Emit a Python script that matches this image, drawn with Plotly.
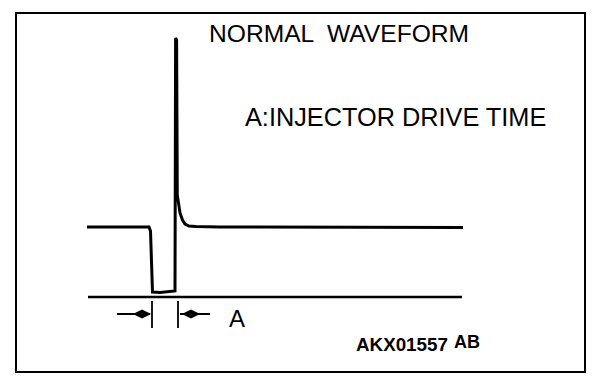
import plotly.graph_objects as go

# Waveform (time in arbitrary units, voltage in arbitrary units, ground = 0)
wave_t = [87, 149, 150.5, 152.5, 160, 170, 175, 175.6, 176.6, 177.3, 178.3, 180, 182.5, 185, 189, 196, 220, 300, 400, 463]
wave_v = [70, 70, 66, 5, 4.5, 5, 6, 259, 257, 102, 94, 84, 77, 73, 71, 70.5, 70, 70, 69.5, 69.5]

ground_t = [88, 462]
ground_v = [0, 0]

# Injector drive time markers (A)
tick_left_t = 152
tick_right_t = 178
tick_v = [-4, -31]
arrow_v = -17
arrow_left_t = [117, 150]
arrow_right_t = [180, 210]
head_left_t = 142
head_right_t = 191

title_text = "NORMAL  WAVEFORM"
legend_text = "A:INJECTOR DRIVE TIME"
a_label = "A"
code_text = "AKX01557"
code_suffix = "AB"

Y0 = 297  # pixel row of ground (for axis range only)

fig = go.Figure()

fig.add_trace(go.Scatter(x=wave_t, y=wave_v, mode="lines", line=dict(color="black", width=3, shape="linear"), hoverinfo="skip"))
fig.add_trace(go.Scatter(x=ground_t, y=ground_v, mode="lines", line=dict(color="black", width=2.5), hoverinfo="skip"))

# ticks
for t in (tick_left_t, tick_right_t):
    fig.add_trace(go.Scatter(x=[t, t], y=tick_v, mode="lines", line=dict(color="black", width=1.8), hoverinfo="skip"))
# arrows
fig.add_trace(go.Scatter(x=arrow_left_t, y=[arrow_v, arrow_v], mode="lines", line=dict(color="black", width=2), hoverinfo="skip"))
fig.add_trace(go.Scatter(x=arrow_right_t, y=[arrow_v, arrow_v], mode="lines", line=dict(color="black", width=2), hoverinfo="skip"))
fig.add_trace(go.Scatter(x=[head_left_t, head_right_t], y=[arrow_v, arrow_v], mode="markers",
                         marker=dict(symbol="diamond-wide", size=13, color="black", line=dict(width=0)), hoverinfo="skip"))

font = "Liberation Sans, Arial, Helvetica, sans-serif"
ann = [
    dict(x=207, y=Y0 - 33, text=title_text, size=24.6, weight="normal"),
    dict(x=243, y=Y0 - 116.5, text=legend_text, size=25.3, weight="normal"),
    dict(x=354, y=Y0 - 344, text=code_text, size=18.8, weight="bold"),
    dict(x=452, y=Y0 - 342, text=code_suffix, size=18, weight="bold"),
]
for a in ann:
    fig.add_annotation(x=a["x"], y=a["y"], xref="x", yref="y", text=a["text"], showarrow=False,
                       xanchor="left", yanchor="middle",
                       font=dict(family=font, size=a["size"], color="black", weight=a["weight"]))
fig.add_annotation(x=237, y=Y0 - 318, xref="x", yref="y", text=a_label, showarrow=False,
                   xanchor="center", yanchor="middle", font=dict(family=font, size=24, color="black"))

# frame
fig.add_shape(type="rect", x0=16, x1=585, y0=Y0 - 13, y1=Y0 - 372, xref="x", yref="y",
              line=dict(color="black", width=2))

fig.update_layout(
    width=608, height=390, margin=dict(l=0, r=0, t=0, b=0),
    paper_bgcolor="white", plot_bgcolor="white", showlegend=False,
    xaxis=dict(range=[0, 608], visible=False, fixedrange=True),
    yaxis=dict(range=[Y0 - 390, Y0], visible=False, fixedrange=True),
)
fig.write_html("out.html")
